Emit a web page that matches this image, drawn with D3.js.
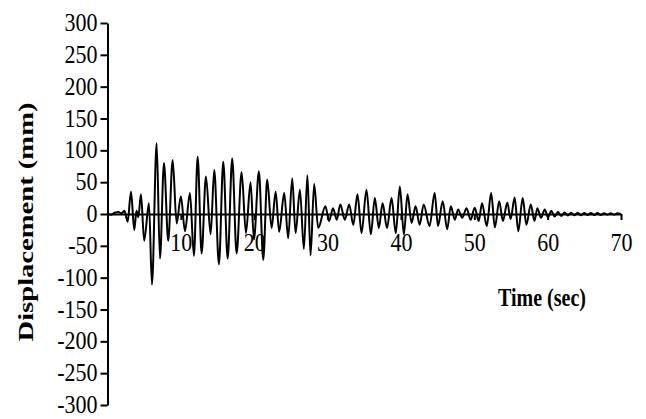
<!DOCTYPE html>
<html><head><meta charset="utf-8">
<script src="https://cdn.jsdelivr.net/npm/d3@7"></script>
<style>html,body{margin:0;padding:0;background:#fff;}svg{display:block;}</style>
</head><body>
<svg id="chart" width="646" height="419"></svg>
<script>
const timeSec = [0,0.5,1.0,1.5,1.9,2.3,2.75,3.2,3.65,3.95,4.2,4.56,5.0,5.65,6.06,6.7,7.15,7.7,8.28,8.88,9.43,10.0,10.56,11.24,11.78,12.29,12.83,13.42,14.06,14.55,15.19,15.78,16.38,17.0,17.6,18.28,18.87,19.5,19.96,20.64,21.23,21.77,22.37,22.92,23.4,24.09,24.63,25.18,25.64,26.23,26.77,27.25,27.68,28.17,28.72,29.7,30.2,30.75,31.25,31.74,32.35,32.95,33.5,34.08,34.63,35.3,35.9,36.44,36.99,37.5,38.1,38.72,39.3,39.85,40.4,40.9,41.45,42.0,42.55,43.1,43.9,44.6,45.05,45.7,46.3,46.8,47.35,47.8,48.35,48.95,49.5,50.06,50.6,51.06,51.7,52.3,52.8,53.4,53.9,54.5,54.95,55.5,56.0,56.6,57.1,57.7,58.2,58.6,59.1,59.6,60.05,60.5,60.95,61.4,61.85,62.3,62.75,63.2,63.65,64.1,64.55,65.0,65.45,65.9,66.35,66.8,67.25,67.7,68.15,68.6,69.05,69.5,70];
const displacementMm = [0,-1,2,3,1,5,-12,35,-25,5,-5,31,-42,17,-111,111,-70,80,-42,85,-15,28,-27,33,-66,90,-62,59,-32,69,-79,82,-70,87,-62,66,-30,50,-40,67,-72,54,-22,35,-28,33,-38,56,-30,38,-55,61,-65,47,-22,12,-11,9,-9,15,-9,15,-17,31,-30,38,-32,25,-22,17,-22,25,-30,43,-32,31,-14,12,-17,15,-19,33,-19,20,-24,12,-9,7,-6,9,-9,10,-11,17,-19,33,-21,20,-11,18,-8,26,-27,25,-17,15,-11,9,-6,7,-5,5,-4,3,-3,2.5,-2.5,2,-2,2,-2,1.5,-1.5,1.5,-1.5,1.5,-1.5,1,-1,1,-1,1,0];
const xTicks = [10,20,30,40,50,60,70];
const yTicks = [-300,-250,-200,-150,-100,-50,0,50,100,150,200,250,300];
const xTitle = "Time (sec)";
const yTitle = "Displacement (mm)";

const svg = d3.select("#chart");
const x = d3.scaleLinear().domain([0,70]).range([107.5,621]);
const y = d3.scaleLinear().domain([-300,300]).range([405,23]);
const serif = "'Liberation Serif','Times New Roman',serif";

// signal
const pts = timeSec.map((t,i)=>[t,displacementMm[i]]);
svg.append("path")
  .attr("d", d3.line().x(d=>x(d[0])).y(d=>y(d[1])).curve(d3.curveMonotoneX)(pts))
  .attr("fill","none").attr("stroke","#000").attr("stroke-width",2).attr("stroke-linejoin","round");

// y axis
const yAxis = svg.append("g").attr("transform",`translate(${x(0)},0)`)
  .call(d3.axisLeft(y).tickValues(yTicks).tickSize(7).tickPadding(3).tickSizeOuter(0).tickFormat(d=>String(d)));
yAxis.select(".domain").attr("stroke","#000").attr("stroke-width",2);
yAxis.selectAll(".tick line").attr("stroke","#000").attr("stroke-width",2);
yAxis.selectAll(".tick text").attr("font-family",serif).attr("font-size",22).attr("fill","#000")
  .attr("dy",null).attr("y",6.6).attr("transform","scale(1,1.15)");

// x axis at zero
const xAxis = svg.append("g").attr("transform",`translate(0,${y(0)})`)
  .call(d3.axisBottom(x).tickValues(xTicks).tickSize(6).tickPadding(10).tickSizeOuter(0).tickFormat(d=>String(d)));
xAxis.select(".domain").attr("stroke","#000").attr("stroke-width",2);
xAxis.selectAll(".tick line").attr("stroke","#000").attr("stroke-width",2);
xAxis.selectAll(".tick text").attr("font-family",serif).attr("font-size",22).attr("fill","#000")
  .attr("dy",null).attr("y",37/1.15).attr("transform","scale(1,1.15)");

// titles
svg.append("text").text(xTitle)
  .attr("transform","translate(542,306) scale(1,1.25)")
  .attr("text-anchor","middle").attr("font-family",serif).attr("font-weight","bold")
  .attr("font-size",20).attr("fill","#000");
svg.append("text").text(yTitle)
  .attr("transform","translate(33,222) rotate(-90) scale(1.3,1)")
  .attr("text-anchor","middle").attr("font-family",serif).attr("font-weight","bold")
  .attr("font-size",22).attr("fill","#000");
</script>
</body></html>
